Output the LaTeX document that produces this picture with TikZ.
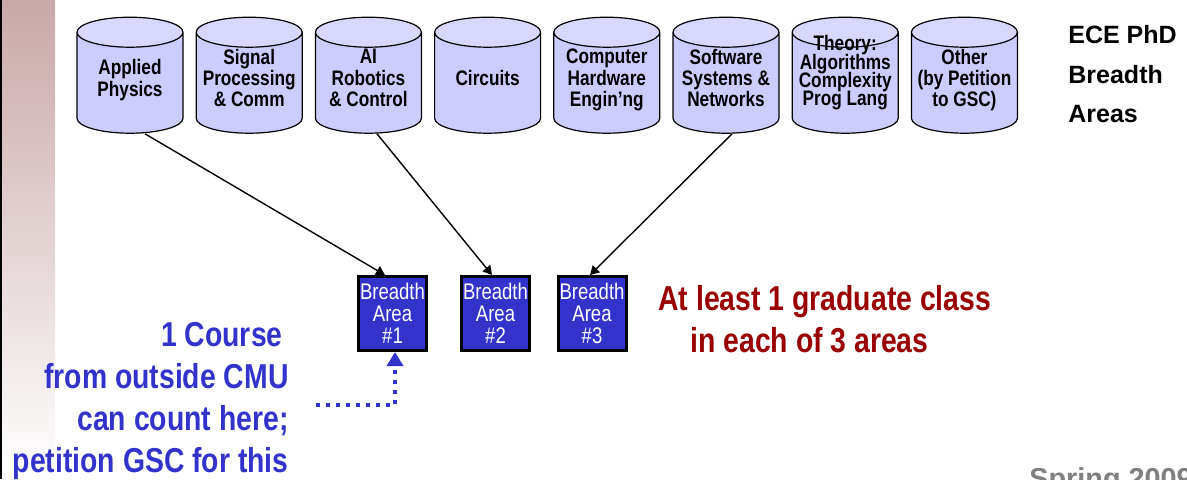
\documentclass[tikz,border=0pt]{standalone}
\usepackage{fontspec}
\setmainfont{Liberation Sans}
\newfontfamily\narrowsf[FakeStretch=0.82]{Liberation Sans}
\usetikzlibrary{shapes.geometric,arrows.meta}

\definecolor{areafill}{HTML}{CCCCFF}
\definecolor{areatop}{HTML}{D8D8FF}
\definecolor{boxblue}{HTML}{3333CC}
\definecolor{reqred}{HTML}{990000}
\definecolor{stripc}{HTML}{C8A8A8}
\definecolor{termgray}{HTML}{808080}

% same text box for every cylinder, so that all come out the same size
\newcommand{\areatext}[1]{\makebox[30pt]{\raisebox{2pt}[7.6pt][0.2pt]{\begin{tabular}{@{}c@{}}#1\end{tabular}}}}

\begin{document}
\begin{tikzpicture}[x=0.5pt,y=-0.5pt,
  area/.style={cylinder, shape border rotate=90, draw, line width=0.6pt, aspect=0.5,
    minimum width=53pt, minimum height=58pt, inner sep=0pt,
    cylinder uses custom fill, cylinder body fill=areafill, cylinder end fill=areatop,
    align=center, font=\narrowsf\bfseries\fontsize{10.5}{10.3}\selectfont},
  breadth/.style={draw, line width=1.5pt, fill=boxblue, text=white, minimum width=34pt,
    minimum height=37pt, inner sep=0pt, align=center, font=\narrowsf\fontsize{11.3}{11}\selectfont},
  bigtext/.style={inner sep=0pt, font=\narrowsf\bfseries\fontsize{17.3}{21}\selectfont},
  tip/.style={-{Triangle[length=4.5pt,width=5pt]}, line width=0.7pt},
  dots/.style={-{Triangle[length=7pt,width=8pt]}, draw=boxblue, line width=2pt,
    dash pattern=on 2pt off 3pt}]
\useasboundingbox (0,0) rectangle (1187,479);
\fill[top color=stripc, bottom color=white] (0,0) rectangle (55,479);
\draw[line width=1pt] (1,0) -- (1,479);

% breadth areas
\node[area] (phys) at (130,83) {\areatext{Applied\\Physics}};
\node[area] (sig) at (249.2,83) {\areatext{Signal\\Processing\\\& Comm}};
\node[area] (ai) at (368.4,83) {\areatext{AI\\Robotics\\\& Control}};
\node[area] (circ) at (487.6,83) {\areatext{Circuits}};
\node[area] (hw) at (606.8,83) {\areatext{Computer\\Hardware\\Engin’ng}};
\node[area] (soft) at (726,83) {\areatext{Software\\Systems \&\\Networks}};
\node[area, font=\narrowsf\bfseries\fontsize{10.5}{9.2}\selectfont] (theory) at (845.2,83)
  {\makebox[30pt]{\raisebox{6pt}[7.6pt][0.2pt]{\parbox[c]{52pt}{\centering\lineskiplimit=-10pt
   Theory:\\Algorithms\\Complexity\\Prog Lang}}}};
\node[area] (other) at (964.4,83) {\areatext{Other\\(by Petition\\to GSC)}};

\node[anchor=north west, align=left, inner sep=0pt,
  font=\bfseries\fontsize{12.5}{19.75}\selectfont]
  (title) at (1068,25) {ECE PhD\\Breadth\\Areas};

% required classes
\node[breadth] (ba1) at (392.5,313.5) {Breadth\\Area\\\#1};
\node[breadth] (ba2) at (495.5,313.5) {Breadth\\Area\\\#2};
\node[breadth] (ba3) at (592,313.5) {Breadth\\Area\\\#3};

\draw[tip] ([xshift=7.5pt]phys.south) -- ([xshift=-3.75pt]ba1.north);
\draw[tip] ([xshift=4.3pt]ai.south) -- ([xshift=-1.75pt]ba2.north);
\draw[tip] ([xshift=3pt]soft.south) -- ([xshift=-1pt]ba3.north);

\node[bigtext, anchor=north west, align=left, text=reqred]
  (req) at (658,285) {At least 1 graduate class\\\hspace{16pt}in each of 3 areas};

% outside course
\node[bigtext, anchor=north east, align=right, text=boxblue]
  (outside) at (289,322) {1 Course\kern3pt\\from outside CMU\\can count here;\\petition GSC for this};
\coordinate (src) at (316,405);
\draw[dots] (src) -| ([xshift=1.25pt]ba1.south);

\node[anchor=north west, inner sep=0pt, text=termgray, font=\bfseries\fontsize{14.4}{17}\selectfont]
  (term) at (1029,467) {Spring 2009};
\end{tikzpicture}
\end{document}
